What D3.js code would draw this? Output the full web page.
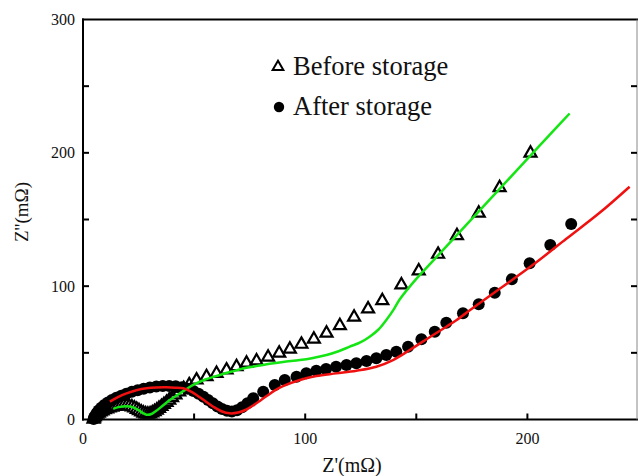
<!DOCTYPE html>
<html>
<head>
<meta charset="utf-8">
<script src="https://cdn.jsdelivr.net/npm/d3@7"></script>
<style>
  html, body { margin: 0; padding: 0; background: #fff; }
  svg { display: block; }
  text { font-family: "Liberation Serif", "Times New Roman", serif; fill: #111; }
</style>
</head>
<body>
<svg id="chart" width="638" height="476"></svg>
<script>
// Nyquist plot data, Z' and Z'' in mOhm
const xTicks = [0, 100, 200];
const yTicks = [0, 100, 200, 300];
const minorStep = 50;

// measured impedance before storage (triangles)
const beforeData = [
  [4.8,0.3],[5.0,1.2],[5.3,2.1],[5.8,3.0],[6.4,3.9],[7.1,4.8],[7.9,5.7],[8.8,6.5],
  [9.8,7.3],[10.9,8.0],[12.0,8.7],[13.2,9.3],[14.4,9.8],[15.7,10.2],[17.0,10.4],
  [18.3,10.5],[19.6,10.4],[20.8,10.0],[22.0,9.4],[23.1,8.6],[24.2,7.6],[25.2,6.6],
  [26.2,5.6],[27.2,4.8],[28.2,4.2],[29.2,4.0],[30.2,4.2],[31.2,4.9],[32.2,5.9],
  [33.2,7.0],[34.2,8.3],[35.3,9.7],[36.4,11.2],[37.6,12.8],[38.8,14.5],[40.1,16.3],
  [41.6,18.4],[43.3,20.7],[45.3,23.2],[47.8,26.0],[51.1,29.6],[55.6,32.1],
  [60.1,34.6],[64.6,37.1],[69.1,39.6],[73.6,42.2],[78.1,43.9],[83.3,46.7],[88.3,49.7],
  [93.1,52.7],[98.3,56.4],[103.9,60.2],[109.6,64.7],[115.6,70.4],[122.0,76.7],
  [128.3,82.9],[134.7,89.1],[143.3,100.9],[151.1,111.4],[159.8,123.9],[168.3,137.9],
  [178.1,154.7],[187.5,173.9],[201.4,199.7]
];

// measured impedance after storage (filled circles)
const afterData = [
  [4.8,0.3],[5.0,1.5],[5.4,2.6],[6.1,4.7],[7.0,6.8],[8.2,8.9],[9.6,10.9],[11.2,12.8],[13.0,14.6],
  [15.0,16.3],[17.2,17.9],[19.5,19.4],[22.0,20.8],[24.6,22.0],[27.3,23.1],[30.1,24.0],
  [33.0,24.7],[35.9,25.1],[38.8,25.2],[41.7,24.9],[44.5,24.2],[47.2,23.0],[49.7,21.4],
  [52.0,19.4],[54.2,17.1],[56.3,14.6],[58.4,12.1],[60.5,9.8],[62.6,7.9],[64.8,6.6],
  [67.0,6.0],[69.3,7.0],[71.6,9.2],[74.0,12.2],[76.6,15.9],[81.1,20.9],[86.3,25.9],
  [90.8,29.6],[96.1,32.1],[100.5,34.7],[105.0,36.6],[109.4,37.9],[113.9,39.6],
  [118.6,40.9],[123.0,42.1],[127.6,43.9],[132.0,45.9],[136.5,48.4],[141.0,50.9],
  [146.3,54.6],[152.3,60.2],[158.3,65.9],[163.5,72.6],[171.0,79.7],[178.1,86.4],
  [185.3,95.1],[193.0,105.2],[201.0,117.2],[210.3,130.9],[219.7,146.7]
];

// equivalent-circuit fit, before storage
const beforeFit = [
  [13.6,8.0],[16.0,9.3],[19.6,10.0],[22.5,9.2],[25.0,7.0],[27.0,4.8],[28.6,3.6],
  [30.5,3.9],[33.0,6.5],[36.0,10.5],[39.1,14.6],[43.0,19.0],[46.5,22.8],[49.6,25.9],
  [55.0,30.0],[61.6,33.4],[67.0,36.0],[72.0,38.2],[79.6,40.5],[84.0,41.8],[90.0,43.2],
  [97.6,44.6],[103.0,46.0],[109.6,48.4],[115.0,51.2],[120.0,54.6],[125.0,58.0],
  [129.0,62.1],[133.0,67.5],[136.5,74.6],[140.0,83.0],[142.5,90.0],[150.0,105.5],
  [157.5,119.0],[165.0,132.5],[172.5,146.0],[180.0,159.5],[187.5,173.0],[195.0,186.5],
  [202.5,200.0],[210.0,213.5],[219.0,229.5]
];

// equivalent-circuit fit, after storage
const afterFit = [
  [12.1,13.4],[15.5,16.6],[19.6,19.6],[24.0,21.9],[28.6,23.4],[33.0,24.0],[37.6,24.1],
  [41.5,23.9],[45.1,23.4],[48.2,21.3],[51.1,18.4],[54.8,14.0],[58.6,9.6],[62.3,6.2],
  [66.1,4.6],[69.8,5.2],[73.6,7.5],[77.0,11.0],[80.0,14.5],[83.0,18.0],[86.0,21.5],
  [90.0,25.0],[97.6,29.6],[105.0,32.6],[114.0,34.6],[123.0,36.6],[132.0,39.6],
  [139.5,44.6],[147.0,52.1],[156.0,61.7],[163.5,69.6],[168.0,74.5],[175.0,83.0],
  [187.5,98.0],[202.5,116.0],[217.5,135.5],[232.5,155.0],[246.0,174.6]
];

const legendLabels = ["Before storage", "After storage"];

const svg = d3.select("#chart");
const m = { left: 83, right: 637, top: 19.5, bottom: 419.5 };

const x = d3.scaleLinear().domain([0, 250]).range([m.left, 638.5]);
const y = d3.scaleLinear().domain([0, 300]).range([m.bottom, m.top]);

const allX = d3.range(0, 251, minorStep);
const allY = d3.range(0, 301, minorStep);

// frame
const frame = svg.append("g").attr("stroke", "#000").attr("fill", "none");
frame.append("line").attr("x1", m.left).attr("x2", m.left).attr("y1", m.top - 1).attr("y2", m.bottom + 1).attr("stroke-width", 2);
frame.append("line").attr("x1", m.left - 1).attr("x2", 638).attr("y1", m.bottom).attr("y2", m.bottom).attr("stroke-width", 2);
frame.append("line").attr("x1", m.left - 1).attr("x2", 638).attr("y1", m.top).attr("y2", m.top).attr("stroke-width", 2);
frame.append("line").attr("x1", m.right).attr("x2", m.right).attr("y1", m.top).attr("y2", m.bottom).attr("stroke-width", 1).attr("stroke", "#888");

// inward ticks
const tickLen = 6;
const ticks = svg.append("g").attr("stroke", "#000").attr("stroke-width", 2);
allX.filter(v => v > 0 && v < 250).forEach(v => {
  ticks.append("line").attr("x1", x(v)).attr("x2", x(v)).attr("y1", m.bottom).attr("y2", m.bottom - tickLen);
});
allY.filter(v => v > 0 && v < 300).forEach(v => {
  ticks.append("line").attr("x1", m.left).attr("x2", m.left + tickLen).attr("y1", y(v)).attr("y2", y(v));
  ticks.append("line").attr("x1", m.right).attr("x2", m.right - tickLen).attr("y1", y(v)).attr("y2", y(v));
});

// tick labels
svg.append("g").selectAll("text").data(xTicks).join("text")
  .attr("x", d => x(d)).attr("y", 444)
  .attr("text-anchor", "middle").attr("font-size", 16).text(d => d);
svg.append("g").selectAll("text").data(yTicks).join("text")
  .attr("x", 75).attr("y", d => y(d) + 5.5)
  .attr("text-anchor", "end").attr("font-size", 16).text(d => d);

// axis titles
svg.append("text").attr("x", 352).attr("y", 472).attr("text-anchor", "middle")
  .attr("font-size", 20).text("Z'(m\u03A9)");
svg.append("text").attr("transform", "translate(28,212) rotate(-90)")
  .attr("text-anchor", "middle").attr("font-size", 19).text("Z''(m\u03A9)");

// markers
const tri = d3.symbol().type(d3.symbolTriangle).size(62);
svg.append("g").selectAll("path").data(beforeData).join("path")
  .attr("d", tri)
  .attr("transform", d => `translate(${x(d[0])},${y(d[1])})`)
  .attr("fill", "#fff").attr("stroke", "#000").attr("stroke-width", 2.2);

svg.append("g").selectAll("circle").data(afterData).join("circle")
  .attr("cx", d => x(d[0])).attr("cy", d => y(d[1])).attr("r", 6)
  .attr("fill", "#000");

// fitted curves
const line = d3.line().x(d => x(d[0])).y(d => y(d[1])).curve(d3.curveCatmullRom.alpha(0.5));
svg.append("path").datum(beforeFit).attr("d", line)
  .attr("fill", "none").attr("stroke", "#14e614").attr("stroke-width", 2.5);
svg.append("path").datum(afterFit).attr("d", line)
  .attr("fill", "none").attr("stroke", "#f01010").attr("stroke-width", 2.5);

// legend
const lg = svg.append("g");
lg.append("path").attr("d", d3.symbol().type(d3.symbolTriangle).size(50)).attr("transform", "translate(278,67)")
  .attr("fill", "#fff").attr("stroke", "#000").attr("stroke-width", 2);
lg.append("circle").attr("cx", 279).attr("cy", 107).attr("r", 5.2).attr("fill", "#000");
lg.selectAll("text").data(legendLabels).join("text")
  .attr("x", 293).attr("y", (d, i) => 75 + i * 40)
  .attr("font-size", 26.5).text(d => d);
</script>
</body>
</html>
